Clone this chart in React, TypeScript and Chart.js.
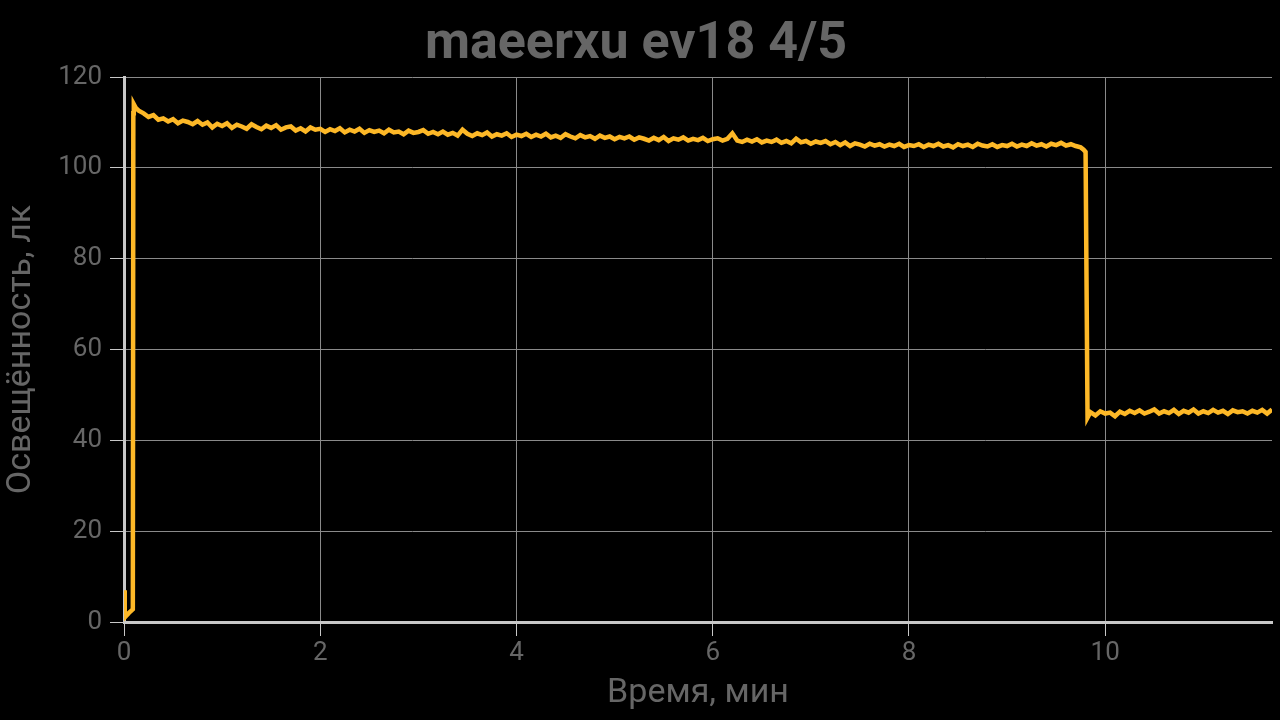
import React, { useEffect, useRef } from "react";
import { Chart, registerables } from "chart.js";

Chart.register(...registerables);

const TITLE = "maeerxu ev18 4/5";
const X_TITLE = "Время, мин";
const Y_TITLE = "Освещённость, лк";

const startTimes = [0, 0.005, 0.01, 0.05, 0.09, 0.095, 0.1, 0.12];
const startValues = [7, 1.5, 1.0, 2.0, 2.8, 112, 114, 113.2];

const highTimes = [
  0.15, 0.2, 0.25, 0.3, 0.35, 0.4, 0.45, 0.5, 0.55, 0.6, 0.65, 0.7, 0.75, 0.8, 0.85, 0.9, 0.95, 1.0, 1.05, 1.1,
  1.15, 1.2, 1.25, 1.3, 1.35, 1.4, 1.45, 1.5, 1.55, 1.6, 1.65, 1.7, 1.75, 1.8, 1.85, 1.9, 1.95, 2.0, 2.05, 2.1,
  2.15, 2.2, 2.25, 2.3, 2.35, 2.4, 2.45, 2.5, 2.55, 2.6, 2.65, 2.7, 2.75, 2.8, 2.85, 2.9, 2.95, 3.0, 3.05, 3.1,
  3.15, 3.2, 3.25, 3.3, 3.35, 3.4, 3.45, 3.5, 3.55, 3.6, 3.65, 3.7, 3.75, 3.8, 3.85, 3.9, 3.95, 4.0, 4.05, 4.1,
  4.15, 4.2, 4.25, 4.3, 4.35, 4.4, 4.45, 4.5, 4.55, 4.6, 4.65, 4.7, 4.75, 4.8, 4.85, 4.9, 4.95, 5.0, 5.05, 5.1,
  5.15, 5.2, 5.25, 5.3, 5.35, 5.4, 5.45, 5.5, 5.55, 5.6, 5.65, 5.7, 5.75, 5.8, 5.85, 5.9, 5.95, 6.0, 6.05, 6.1,
  6.15, 6.2, 6.25, 6.3, 6.35, 6.4, 6.45, 6.5, 6.55, 6.6, 6.65, 6.7, 6.75, 6.8, 6.85, 6.9, 6.95, 7.0, 7.05, 7.1,
  7.15, 7.2, 7.25, 7.3, 7.35, 7.4, 7.45, 7.5, 7.55, 7.6, 7.65, 7.7, 7.75, 7.8, 7.85, 7.9, 7.95, 8.0, 8.05, 8.1,
  8.15, 8.2, 8.25, 8.3, 8.35, 8.4, 8.45, 8.5, 8.55, 8.6, 8.65, 8.7, 8.75, 8.8, 8.85, 8.9, 8.95, 9.0, 9.05, 9.1,
  9.15, 9.2, 9.25, 9.3, 9.35, 9.4, 9.45, 9.5, 9.55, 9.6, 9.65, 9.7, 9.75,
];
const highValues = [
  112.6, 112, 111.2, 111.6, 110.6, 110.9, 110.2, 110.7, 109.8, 110.4, 110.1, 109.6, 110.3, 109.5, 110.0, 108.9, 109.7, 109.2, 109.8, 108.8,
  109.5, 109.1, 108.6, 109.6, 109.0, 108.5, 109.3, 108.8, 109.4, 108.4, 108.9, 109.1, 108.2, 108.7, 108.0, 108.9, 108.4, 108.6, 107.9, 108.5,
  108.1, 108.7, 107.8, 108.4, 108.0, 108.6, 107.7, 108.3, 107.9, 108.2, 107.6, 108.4, 107.8, 108.0, 107.4, 108.2, 107.7, 107.9, 108.3, 107.5,
  107.9, 107.4, 108.0, 107.3, 107.7, 107.1, 108.4, 107.5, 107.0, 107.6, 107.2, 107.8, 106.9, 107.4, 107.1, 107.6, 106.8, 107.3, 107.0, 107.5,
  106.8, 107.3, 106.9, 107.5, 106.7, 107.1, 106.6, 107.4, 106.9, 106.5, 107.2, 106.7, 107.0, 106.4, 107.1, 106.6, 106.9, 106.3, 106.8, 106.5,
  106.9, 106.2, 106.7, 106.4, 106.0, 106.6, 106.1, 106.8, 105.9, 106.5, 106.2, 106.7, 106.0, 106.4, 106.1, 106.6, 105.9, 106.3, 106.5, 106.0,
  106.4, 107.6, 106.0, 105.7, 106.2, 105.8, 106.3, 105.6, 106.0, 105.7, 106.2, 105.5, 105.9, 105.4, 106.4, 105.6, 105.9, 105.3, 105.8, 105.5,
  105.9, 105.2, 105.7, 105.0, 105.6, 104.8, 105.4, 105.1, 104.7, 105.3, 104.9, 105.2, 104.7, 105.1, 104.8, 105.3, 104.6, 105.0, 104.8, 105.2,
  104.6, 105.1, 104.8, 105.3, 104.7, 105.0, 104.5, 105.2, 104.8, 105.1, 104.6, 105.3, 104.9, 104.7, 105.2, 104.6, 105.0, 104.8, 105.3, 104.7,
  105.1, 104.8, 105.4, 104.9, 105.2, 104.7, 105.3, 105.0, 105.5, 104.9, 105.2, 104.8, 104.5,
];

const dropTimes = [9.78, 9.8, 9.82, 9.84];
const dropValues = [104.0, 103.5, 45.0, 45.8];

const lowTimes = [
  9.85, 9.9, 9.95, 10.0, 10.05, 10.1, 10.15, 10.2, 10.25, 10.3, 10.35, 10.4, 10.45, 10.5, 10.55, 10.6, 10.65, 10.7, 10.75,
  10.8, 10.85, 10.9, 10.95, 11.0, 11.05, 11.1, 11.15, 11.2, 11.25, 11.3, 11.35, 11.4, 11.45, 11.5, 11.55, 11.6, 11.65, 11.7,
];
const lowValues = [
  46.2, 45.5, 46.4, 45.9, 46.1, 45.3, 46.3, 45.8, 46.5, 46.0, 46.6, 45.9, 46.3, 46.8, 45.9, 46.4, 46.0, 46.7, 45.8,
  46.5, 46.1, 46.8, 45.9, 46.4, 46.0, 46.7, 46.1, 46.5, 45.8, 46.6, 46.2, 46.4, 45.9, 46.5, 46.1, 46.7, 45.9, 46.8,
];

const X_MAX = 11.7;
const Y_MAX = 120;

export default function App() {
  const ref = useRef<HTMLCanvasElement | null>(null);

  useEffect(() => {
    if (!ref.current) return;
    const times = [...startTimes, ...highTimes, ...dropTimes, ...lowTimes];
    const values = [...startValues, ...highValues, ...dropValues, ...lowValues];
    const points = times.map((t, i) => ({ x: t, y: values[i] }));
    const textColor = "#666666";
    const chart = new Chart(ref.current, {
      type: "line",
      data: {
        datasets: [
          {
            data: points,
            borderColor: "#FDB827",
            borderWidth: 4.5,
            pointRadius: 0,
            tension: 0,
            fill: false,
          },
        ],
      },
      options: {
        animation: false,
        responsive: true,
        maintainAspectRatio: false,
        layout: { padding: { left: 0, right: 8, top: 0, bottom: 0 } },
        plugins: {
          legend: { display: false },
          tooltip: { enabled: false },
          title: {
            display: true,
            text: TITLE,
            color: textColor,
            font: { family: "Roboto", size: 52, weight: "bold" },
            padding: { top: 14, bottom: 0.6 },
          },
        },
        scales: {
          x: {
            type: "linear",
            min: 0,
            max: X_MAX,
            ticks: {
              stepSize: 2,
              includeBounds: false,
              color: textColor,
              font: { family: "Roboto", size: 26 },
              padding: 2,
              maxRotation: 0,
            },
            grid: { color: "#8a8a8a", lineWidth: 1, tickColor: "#c8c8c8", tickLength: 14 },
            border: { color: "#c8c8c8", width: 3 },
            title: {
              display: true,
              text: X_TITLE,
              color: textColor,
              font: { family: "Roboto", size: 34 },
              padding: { top: 0, bottom: 6 },
            },
            afterFit: (s: any) => {
              s.height = 98;
            },
          },
          y: {
            type: "linear",
            min: 0,
            max: Y_MAX,
            ticks: {
              stepSize: 20,
              color: textColor,
              font: { family: "Roboto", size: 26 },
              padding: 8,
            },
            grid: { color: "#8a8a8a", lineWidth: 1, tickColor: "#c8c8c8", tickLength: 14 },
            border: { color: "#c8c8c8", width: 3 },
            title: {
              display: true,
              text: Y_TITLE,
              color: textColor,
              font: { family: "Roboto", size: 34 },
              padding: { top: 1, bottom: 4 },
            },
            afterFit: (s: any) => {
              s.width = 124;
            },
          },
        },
      },
    });
    return () => chart.destroy();
  }, []);

  return (
    <div style={{ position: "fixed", left: 0, top: 0, width: 1280, height: 720, background: "#000" }}>
      <canvas ref={ref} />
    </div>
  );
}
